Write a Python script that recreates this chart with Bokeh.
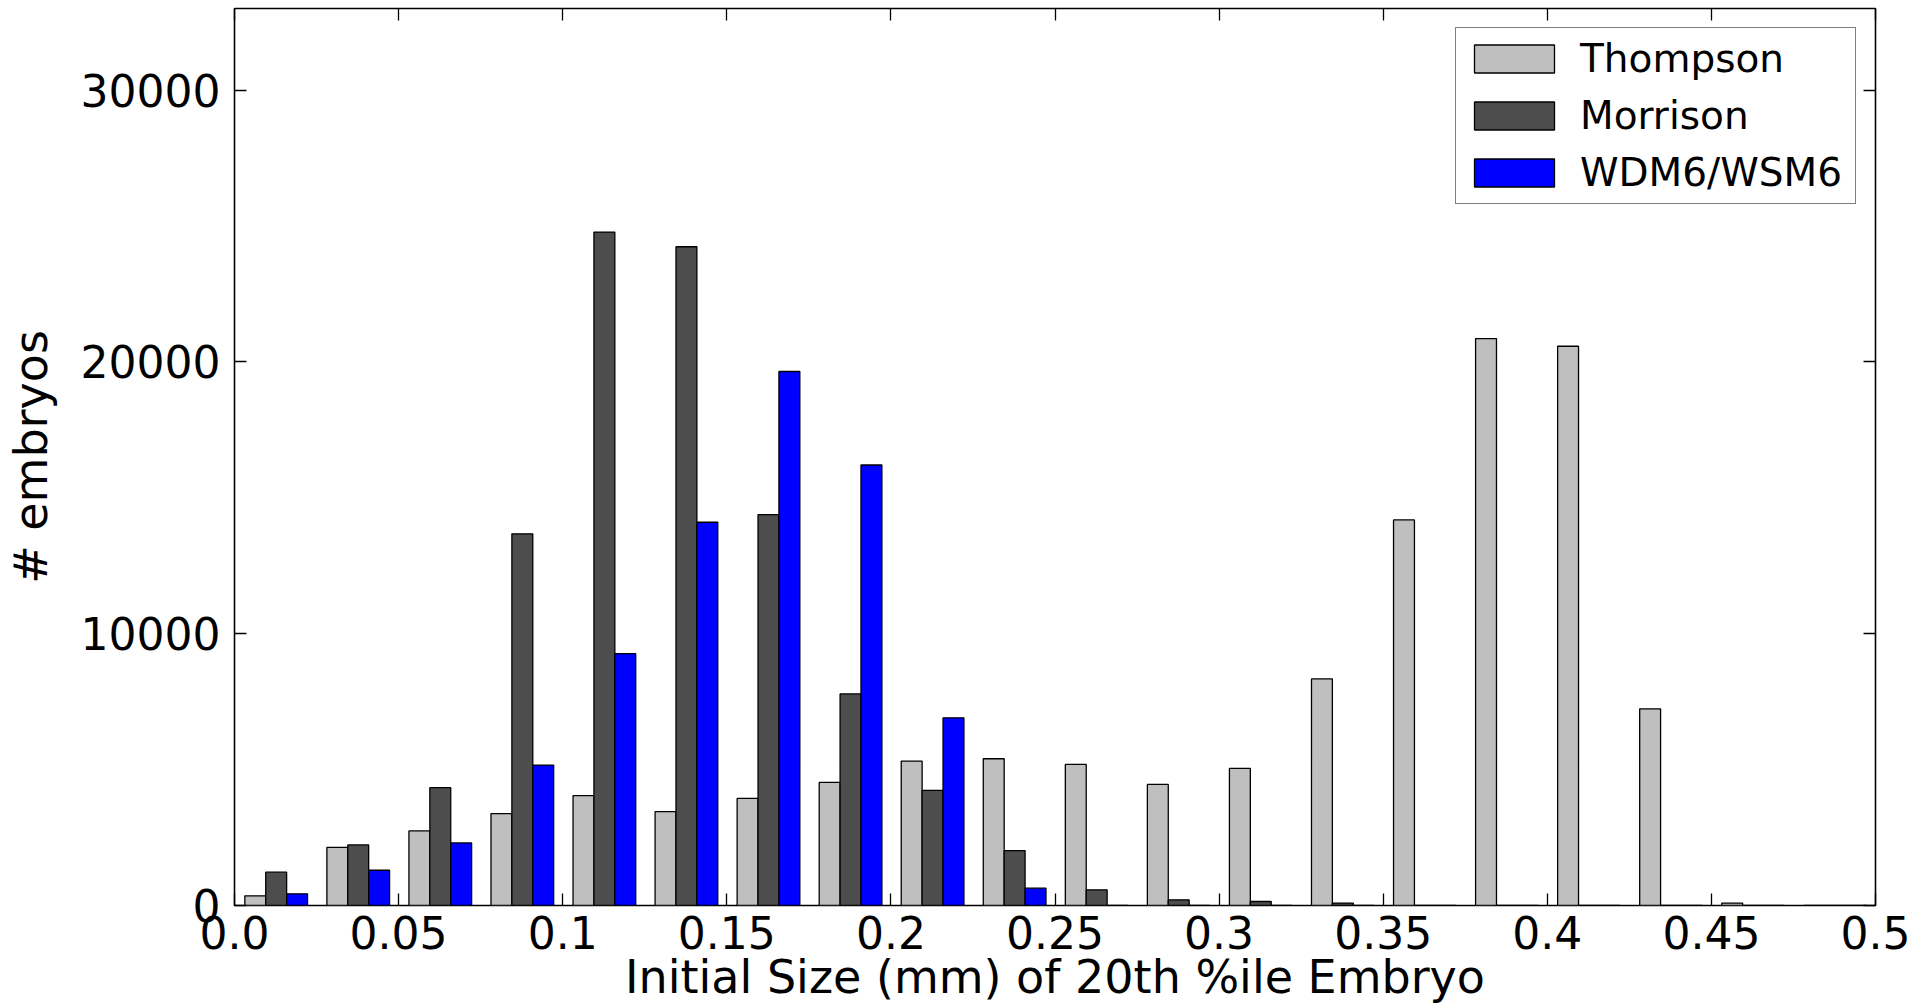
from bokeh.plotting import figure
from bokeh.models import (Range1d, LinearAxis, FixedTicker, CustomJSTickFormatter,
                          Legend, LegendItem, ColumnDataSource, CustomLabelingPolicy)
from bokeh.embed import file_html
from bokeh.resources import INLINE

# ---- data ----
bin_left = [0.0, 0.025, 0.05, 0.075, 0.1, 0.125, 0.15, 0.175, 0.2, 0.225,
            0.25, 0.275, 0.3, 0.325, 0.35, 0.375, 0.4, 0.425, 0.45, 0.475]
thompson = [356, 2142, 2742, 3378, 4039, 3452, 3941, 4529, 5312, 5398,
            5190, 4455, 5043, 8335, 14186, 20857, 20575, 7234, 90, 0]
morrison = [1226, 2228, 4333, 13672, 24773, 24235, 14382, 7785, 4235, 2020,
            577, 209, 147, 88, 0, 0, 0, 0, 0, 0]
wdm6 = [430, 1297, 2301, 5165, 9266, 14100, 19645, 16206, 6903, 639,
        0, 0, 0, 0, 0, 0, 0, 0, 0, 0]
series_names = ["Thompson", "Morrison", "WDM6/WSM6"]
series_values = [thompson, morrison, wdm6]
series_colors = ["#bfbfbf", "#4d4d4d", "#0000ff"]
x_ticks = [0.0, 0.05, 0.1, 0.15, 0.2, 0.25, 0.3, 0.35, 0.4, 0.45, 0.5]
y_ticks = [0, 10000, 20000, 30000]

BIN_W = 0.025
BAR_FRAC = 0.2547
FONT = "DejaVu Sans"

p = figure(width=1915, height=1006, output_backend="svg", toolbar_location=None,
           x_range=Range1d(0, 0.5), y_range=Range1d(0, 33000),
           min_border_left=230, min_border_right=40, min_border_top=8,
           min_border_bottom=101, x_axis_label="Initial Size (mm) of 20th %ile Embryo",
           y_axis_label="# embryos")
p.grid.visible = False
p.outline_line_color = "black"
p.outline_line_width = 1.6
p.background_fill_color = "white"
p.border_fill_color = "white"

renderers = []
for k, (name, vals, col) in enumerate(zip(series_names, series_values, series_colors)):
    xs = [b + BIN_W * (0.508 + (k - 1) * BAR_FRAC) for b in bin_left]
    src = ColumnDataSource(dict(x=xs, top=vals))
    r = p.vbar(x="x", top="top", bottom=0, width=BIN_W * BAR_FRAC, source=src,
               fill_color=col, line_color="black", line_width=1.3)
    renderers.append(r)

xfmt = CustomJSTickFormatter(code="return tick == 0 ? '0.0' : String(Math.round(tick*100)/100);")
no_labels = CustomLabelingPolicy(code="""
for (const i of Array.from(indices)) { indices.unset(i) }
return indices
""")

def style_axis(ax, show_labels=True):
    ax.axis_line_color = None
    ax.major_tick_in = 12
    ax.major_tick_out = 0
    ax.minor_tick_in = 0
    ax.minor_tick_out = 0
    ax.major_tick_line_color = "black"
    ax.major_tick_line_width = 1.3
    ax.major_label_text_font = FONT
    ax.major_label_text_color = "black"
    if show_labels:
        ax.major_label_text_font_size = "44px"
    else:
        ax.major_label_text_font_size = "0px"
        ax.major_label_standoff = 0
        ax.major_label_policy = no_labels

xa = p.xaxis[0]
xa.ticker = FixedTicker(ticks=x_ticks)
xa.formatter = xfmt
style_axis(xa)
xa.major_label_standoff = 10
xa.axis_label_text_font = FONT
xa.axis_label_text_font_size = "46px"
xa.axis_label_text_font_style = "normal"
xa.axis_label_text_color = "black"
xa.axis_label_standoff = -2

ya = p.yaxis[0]
ya.ticker = FixedTicker(ticks=y_ticks)
style_axis(ya)
ya.major_label_standoff = 14
ya.axis_label_text_font = FONT
ya.axis_label_text_font_size = "46px"
ya.axis_label_text_font_style = "normal"
ya.axis_label_text_color = "black"
ya.axis_label_standoff = 20

top_ax = LinearAxis(ticker=FixedTicker(ticks=x_ticks))
style_axis(top_ax, show_labels=False)
p.add_layout(top_ax, "above")
right_ax = LinearAxis(ticker=FixedTicker(ticks=y_ticks))
style_axis(right_ax, show_labels=False)
p.add_layout(right_ax, "right")

legend = Legend(items=[LegendItem(label=n, renderers=[r]) for n, r in zip(series_names, renderers)],
                location="top_right", margin=19)
legend.label_text_font = FONT
legend.label_text_font_size = "39px"
legend.label_text_color = "black"
legend.glyph_width = 100
legend.glyph_height = 35
legend.label_standoff = 16
legend.label_width = 267
legend.padding = 8
legend.spacing = 12
legend.border_line_color = "black"
legend.border_line_width = 1.5
legend.background_fill_color = "white"
legend.background_fill_alpha = 1.0
p.add_layout(legend, "center")

open("out.html", "w").write(file_html(p, INLINE))
